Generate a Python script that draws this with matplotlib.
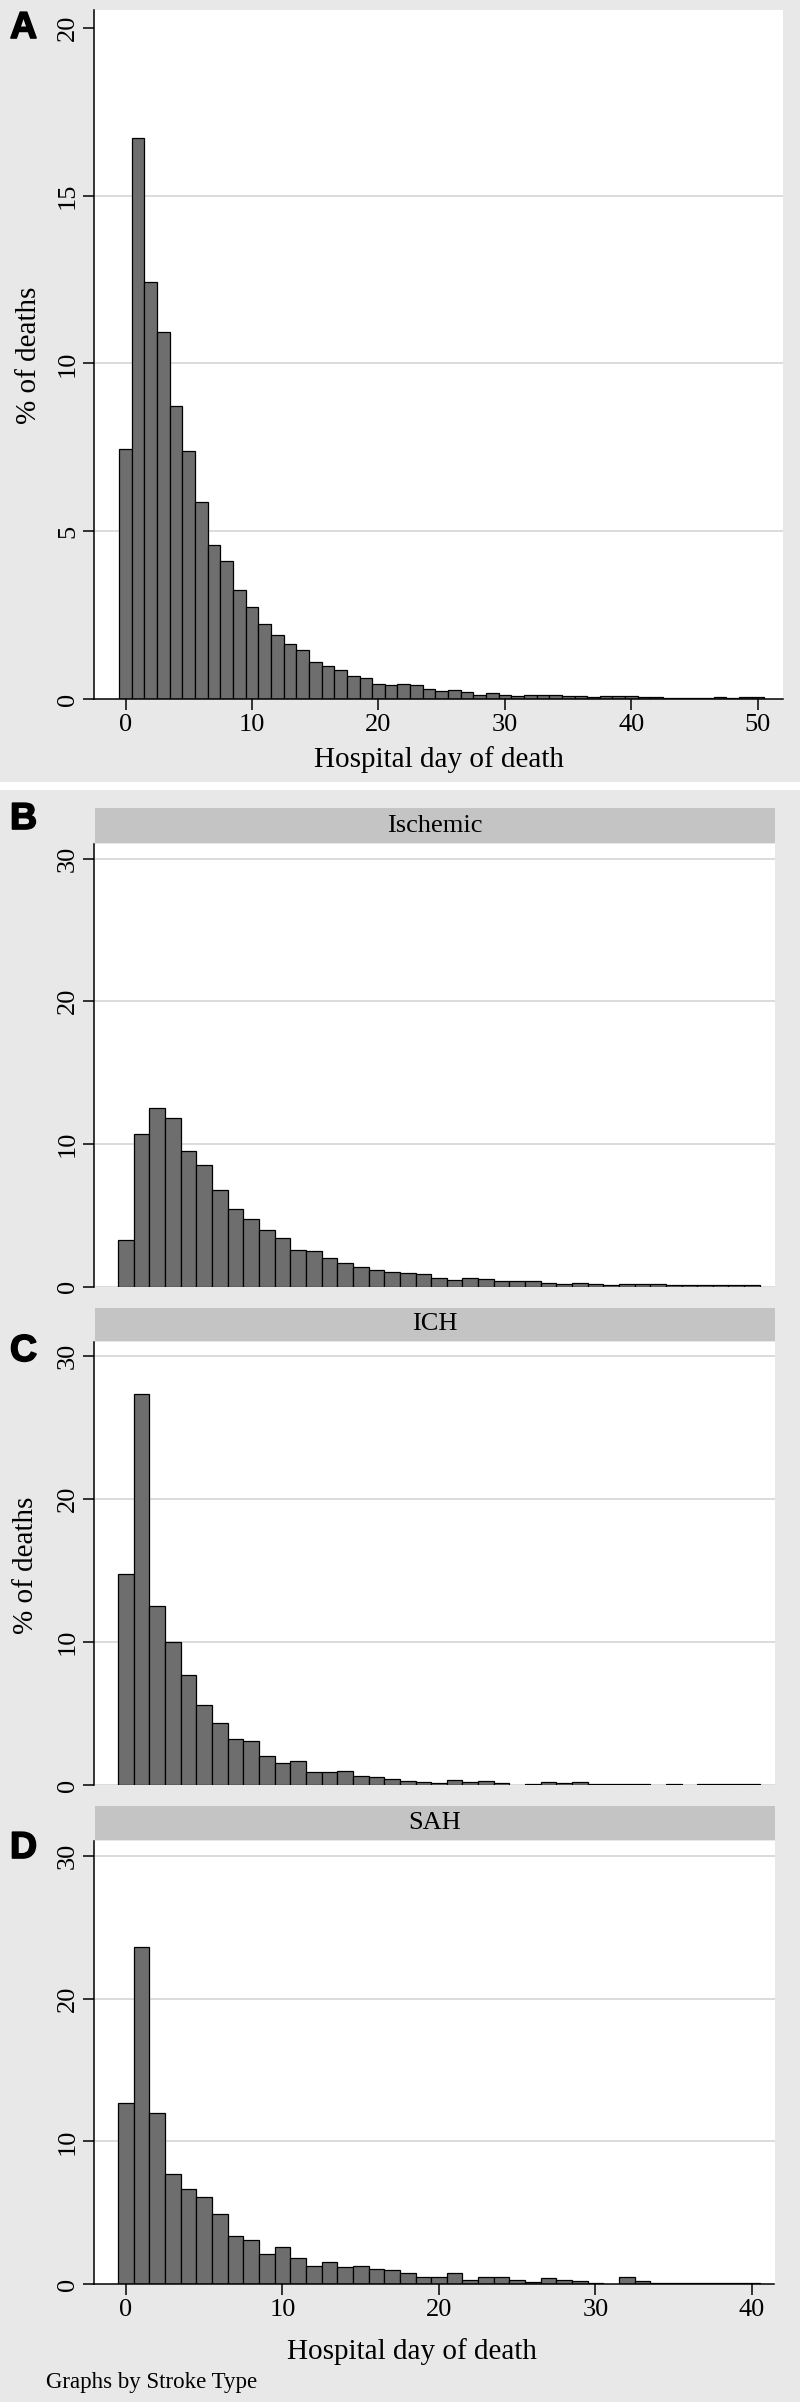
import numpy as np
import matplotlib
matplotlib.use("Agg")
import matplotlib.pyplot as plt
import matplotlib.patches as patches
import matplotlib.patheffects as pe

# figure size in pixels
W, H = 800, 2402

# panel A: all strokes, % of deaths by hospital day
days_all = list(range(51))
pct_all = [7.45, 16.71, 12.43, 10.94, 8.72, 7.39, 5.86, 4.60, 4.12, 3.25,
           2.75, 2.24, 1.90, 1.63, 1.45, 1.11, 0.98, 0.85, 0.68, 0.63,
           0.44, 0.43, 0.44, 0.41, 0.31, 0.25, 0.27, 0.20, 0.13, 0.17,
           0.13, 0.08, 0.12, 0.11, 0.13, 0.09, 0.08, 0.07, 0.10, 0.08,
           0.09, 0.07, 0.06, 0.04, 0.04, 0.04, 0.04, 0.05, 0.03, 0.06,
           0.05]

# panels B-D: by stroke type
days_type = list(range(41))
pct_ischemic = [3.26, 10.71, 12.50, 11.85, 9.52, 8.49, 6.80, 5.44, 4.76, 3.97,
                3.37, 2.54, 2.47, 1.97, 1.68, 1.36, 1.18, 1.04, 0.94, 0.90,
                0.62, 0.43, 0.62, 0.52, 0.40, 0.37, 0.42, 0.28, 0.20, 0.22,
                0.20, 0.12, 0.15, 0.15, 0.18, 0.12, 0.13, 0.11, 0.14, 0.08,
                0.08]
pct_ich = [14.79, 27.33, 12.57, 10.02, 7.68, 5.62, 4.33, 3.25, 3.11, 2.06,
           1.55, 1.69, 0.96, 0.91, 0.98, 0.64, 0.57, 0.41, 0.28, 0.22,
           0.15, 0.36, 0.21, 0.28, 0.13, 0.0, 0.12, 0.20, 0.13, 0.20,
           0.12, 0.12, 0.10, 0.10, 0.0, 0.12, 0.0, 0.10, 0.12, 0.10,
           0.10]
pct_sah = [12.68, 23.62, 12.00, 7.75, 6.67, 6.13, 4.89, 3.36, 3.10, 2.13,
           2.61, 1.85, 1.24, 1.57, 1.22, 1.30, 1.09, 0.97, 0.78, 0.47,
           0.47, 0.81, 0.28, 0.49, 0.49, 0.30, 0.18, 0.40, 0.30, 0.20,
           0.10, 0.0, 0.50, 0.22, 0.09, 0.09, 0.09, 0.09, 0.09, 0.09,
           0.09]

stroke_types = ["Ischemic", "ICH", "SAH"]
panel_letters = ["A", "B", "C", "D"]

bg = '#e8e8e8'
strip_color = '#c4c4c4'
bar_color = '#6e6e6e'
grid_color = '#dcdcdc'

plt.rcParams['font.family'] = ['Liberation Serif', 'DejaVu Serif']


def fx(px):
    return px / W


def fy(py):
    return 1 - py / H


def add_axes(fig, left, top, right, bottom):
    return fig.add_axes([fx(left), fy(bottom), (right - left) / W, (bottom - top) / H])


def style_axes(ax, xlim, ylim, yticks, grid_ticks, show_x, xticks=None):
    ax.set_facecolor('white')
    ax.set_xlim(*xlim)
    ax.set_ylim(*ylim)
    ax.spines['top'].set_visible(False)
    ax.spines['right'].set_visible(False)
    ax.spines['left'].set_linewidth(1.1)
    ax.set_yticks(yticks)
    ax.tick_params(axis='y', length=8, width=1.1, pad=3, labelsize=19,
                   labelrotation=90)
    for lab in ax.get_yticklabels():
        lab.set_va('center')
    for g in grid_ticks:
        ax.axhline(g, color=grid_color, lw=1.4, zorder=0)
    if show_x:
        ax.spines['bottom'].set_linewidth(1.1)
        ax.set_xticks(xticks)
        ax.tick_params(axis='x', length=8, width=1.1, pad=3, labelsize=19)
    else:
        ax.spines['bottom'].set_visible(False)
        ax.axhline(0, color=grid_color, lw=1.4, zorder=0)
        ax.set_xticks([])


def draw_bars(ax, days, pct):
    days = np.array(days)
    pct = np.array(pct)
    keep = pct > 0
    ax.bar(days[keep], pct[keep], width=1, color=bar_color, edgecolor='black',
           linewidth=0.9, zorder=2)


fig = plt.figure(figsize=(W / 100, H / 100), dpi=100, facecolor=bg)

# white band between panel A and the by-type panels
fig.patches.append(patches.Rectangle((0, fy(790)), 1, 8 / H, transform=fig.transFigure,
                                     facecolor='white', edgecolor='none'))

# ---- panel A ----
axA = add_axes(fig, 94.4, 10.2, 783, 699)
draw_bars(axA, days_all, pct_all)
style_axes(axA, (-2.46, 51.98), (0, 20.53), [0, 5, 10, 15, 20], [5, 10, 15],
           True, [0, 10, 20, 30, 40, 50])
fig.text(fx(29), fy(355), '% of deaths', rotation=90, ha='center', va='center', fontsize=21)
fig.text(fx(439), fy(767), 'Hospital day of death', ha='center', va='baseline', fontsize=21)

# ---- panels B-D ----
boxes = [(844.4, 1286.5, 807.7), (1342, 1785.3, 1307.6), (1841.4, 2284.2, 1806)]
series = [pct_ischemic, pct_ich, pct_sah]
axes = []
for i, (top, bottom, strip_top) in enumerate(boxes):
    ax = add_axes(fig, 94.4, top, 774.5, bottom)
    draw_bars(ax, days_type, series[i])
    last = i == len(boxes) - 1
    style_axes(ax, (-2.02, 41.44), (0, 31.0), [0, 10, 20, 30], [10, 20, 30],
               last, [0, 10, 20, 30, 40])
    # strip with stroke type
    fig.patches.append(patches.Rectangle((fx(95.4), fy(top - 1)), (774.5 - 95.4) / W,
                                         (top - 1 - strip_top) / H,
                                         transform=fig.transFigure,
                                         facecolor=strip_color, edgecolor='none'))
    fig.text(fx(435), fy((strip_top + top - 1) / 2), stroke_types[i], ha='center',
             va='center', fontsize=19)
    axes.append(ax)

fig.text(fx(26), fy(1565), '% of deaths', rotation=90, ha='center', va='center', fontsize=21)
fig.text(fx(412), fy(2359), 'Hospital day of death', ha='center', va='baseline', fontsize=21)
fig.text(fx(46), fy(2388), 'Graphs by Stroke Type', ha='left', va='baseline', fontsize=16.5)

# panel letters (heavy sans, like the journal figure labels)
for letter, base in zip(panel_letters, [38, 829, 1361, 1858]):
    fig.text(fx(10), fy(base), letter, ha='left', va='baseline', fontsize=27,
             fontweight='bold', family='Liberation Sans',
             path_effects=[pe.withStroke(linewidth=1.2, foreground='black')])

fig.savefig('out.png', dpi=100, facecolor=bg)
